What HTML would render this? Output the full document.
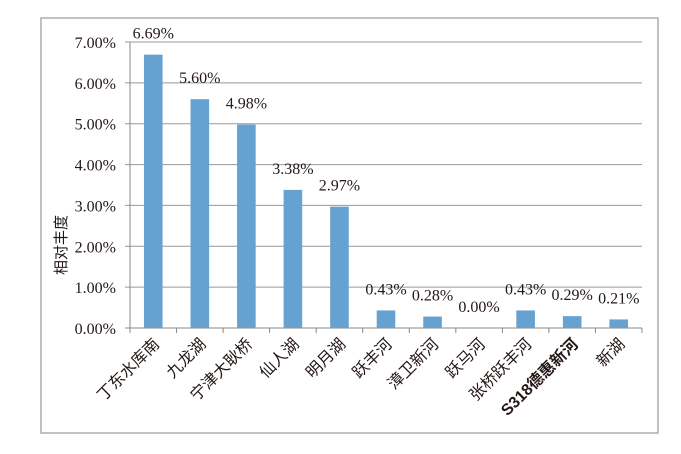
<!DOCTYPE html>
<html><head><meta charset="utf-8"><style>
body{margin:0;background:#fff;}
svg text{font-family:"Liberation Serif","Noto Serif CJK SC",serif;fill:#231815;}
svg text.cat{font-family:"Liberation Sans","Noto Sans CJK SC",sans-serif;}
</style></head><body>
<svg id="chart" width="681" height="449">
<rect x="41" y="18" width="617" height="415" fill="#fff" stroke="#a0a0a0" stroke-width="1.3"/>
<g id="grid"></g><g id="bars"></g><g id="labels"></g>
<text class="cat" transform="translate(66,245) rotate(-90)" text-anchor="middle" font-size="15">相对丰度</text>
</svg>
<script>
const categories=["丁东水库南","九龙湖","宁津大耿桥","仙人湖","明月湖","跃丰河","漳卫新河","跃马河","张桥跃丰河","S318德惠新河","新湖"];
const values=[6.69,5.60,4.98,3.38,2.97,0.43,0.28,0.00,0.43,0.29,0.21];
const ticks=[0,1,2,3,4,5,6,7];
const X0=130,X1=642,Y0=328,Y7=42;
const y=v=>Y0-(v/7)*(Y0-Y7);
const bw=(X1-X0)/categories.length;
const xc=i=>X0+bw*(i+0.5);
const ns="http://www.w3.org/2000/svg";
function mk(t,a,p){const e=document.createElementNS(ns,t);for(const k in a)e.setAttribute(k,a[k]);p.appendChild(e);return e;}
const G=document.getElementById('grid'),B=document.getElementById('bars'),L=document.getElementById('labels');
ticks.forEach(t=>{
 const l=mk('line',{x1:X0-5,x2:X1,y1:y(t),y2:y(t),stroke:t===0?'#888':'#999','stroke-width':1},G);
 
 
 const tx=mk('text',{x:X0-14,y:y(t)+6,'text-anchor':'end','font-size':16},G);
 tx.textContent=t.toFixed(2)+'%';
 
 
});
const ax=mk('line',{x1:X0,x2:X0,y1:Y7,y2:Y0,stroke:'#888'},G);


for(let i=0;i<=categories.length;i++){
 const tk=mk('line',{x1:X0+bw*i,x2:X0+bw*i,y1:Y0,y2:Y0+5,stroke:'#888'},G);
 
 
}
values.forEach((v,i)=>{
 const r=mk('rect',{x:xc(i)-9.3,y:y(v),width:18.6,height:Y0-y(v),fill:'#65a2d2'},B);
 
 
 const t=mk('text',{x:xc(i),y:y(v)-16,'text-anchor':'middle','font-size':16},L);
 t.textContent=v.toFixed(2)+'%';
 
 
 const c=mk('text',{class:'cat',transform:`translate(${xc(i)+7},${Y0+17}) rotate(-45)`,'text-anchor':'end','font-size':16},L);
 c.textContent=categories[i];
 if(i===9)c.setAttribute('font-weight','bold');
 
 
});
</script>
</body></html>
